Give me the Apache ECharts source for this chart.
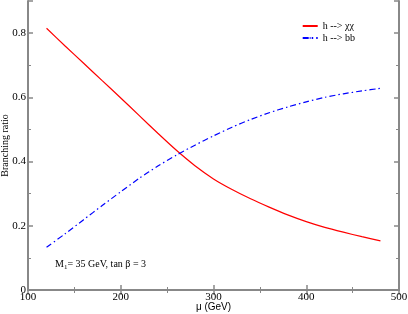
<!DOCTYPE html>
<html><head><meta charset="utf-8">
<script src="https://cdn.jsdelivr.net/npm/echarts@6/dist/echarts.min.js"></script>
<style>html,body{margin:0;padding:0;background:#fff}#c{width:408px;height:314px}</style>
</head><body><div id="c"></div>
<script>
const mu = [120,140,160,180,200,220,240,260,280,300,320,340,360,380,400,420,440,460,480];
const brChi = [0.815,0.760,0.706,0.652,0.598,0.543,0.488,0.435,0.387,0.346,0.313,0.284,0.258,0.234,0.213,0.195,0.180,0.166,0.153];
const brBB = [0.133,0.175,0.219,0.263,0.306,0.348,0.386,0.420,0.451,0.480,0.507,0.531,0.552,0.570,0.586,0.600,0.611,0.620,0.628];
const xTicks = [100,200,300,400,500];
const yTicks = [0,0.2,0.4,0.6,0.8];

const serif = 'Liberation Serif';
const axisCol = '#888';
const zip = (a,b)=>a.map((v,i)=>[v,b[i]]);

const chart = echarts.init(document.getElementById('c'));
const tickCommon = {inside:true, length:5, lineStyle:{color:axisCol,width:1.5}};
const minorCommon = {show:true, splitNumber:2, length:3, lineStyle:{color:axisCol,width:1}};
chart.setOption({
  animation:false,
  grid:{left:28,right:9,top:1,bottom:24,outerBoundsMode:'none',containLabel:false},
  legend:{
    right:48, top:16, orient:'vertical', itemGap:2, itemWidth:15, itemHeight:2,
    textStyle:{fontFamily:serif,fontSize:10,color:'#000'},
    data:[{name:'h --> χχ'},{name:'h --> bb'}]
  },
  title:{
    text:'{a|M}{s|1}{a|= 35 GeV, tan β = 3}',
    left:50, top:253,
    textStyle:{fontWeight:'normal',rich:{a:{fontFamily:serif,fontSize:10,fontWeight:'normal',color:'#000'},s:{fontFamily:serif,fontSize:7,fontWeight:'normal',color:'#000',verticalAlign:'bottom',padding:[6,0,0,0]}}}
  },
  xAxis:[{
    type:'value', min:100, max:500, interval:100,
    name:'μ (GeV)', nameLocation:'middle', nameGap:12, nameMoveOverlap:false,
    nameTextStyle:{fontFamily:'Liberation Sans',fontSize:10,color:'#000',verticalAlign:'top'},
    axisLine:{lineStyle:{color:axisCol,width:2}},
    axisTick:tickCommon, minorTick:minorCommon,
    axisLabel:{fontFamily:serif,fontSize:11,color:'#000',margin:2,formatter:v=>xTicks.includes(v)?String(v):''},
    splitLine:{show:false}
  },{
    type:'value', position:'top', min:100, max:500, interval:100,
    axisLine:{lineStyle:{color:axisCol,width:2}},
    axisTick:tickCommon, minorTick:minorCommon, axisLabel:{show:false}, splitLine:{show:false}
  }],
  yAxis:[{
    type:'value', min:0, max:0.9, interval:0.2,
    name:'Branching ratio', nameLocation:'middle', nameGap:18, nameMoveOverlap:false,
    nameTextStyle:{fontFamily:serif,fontSize:10,color:'#000'},
    axisLine:{lineStyle:{color:axisCol,width:2}},
    axisTick:tickCommon, minorTick:minorCommon,
    axisLabel:{fontFamily:serif,fontSize:11,color:'#000',margin:2,formatter:v=>{const t=yTicks.find(y=>Math.abs(y-v)<1e-6);return t===undefined?'':String(t);}},
    splitLine:{show:false}
  },{
    type:'value', position:'right', min:0, max:0.9, interval:0.2,
    axisLine:{lineStyle:{color:axisCol,width:2}},
    axisTick:tickCommon, minorTick:minorCommon, axisLabel:{show:false}, splitLine:{show:false}
  }],
  series:[{
    name:'h --> χχ', type:'line', smooth:0.25, showSymbol:false, symbol:'none',
    data:zip(mu,brChi), lineStyle:{color:'#ff0000',width:1.2}, itemStyle:{color:'#ff0000'}
  },{
    name:'h --> bb', type:'line', smooth:0.25, showSymbol:false, symbol:'none',
    data:zip(mu,brBB), lineStyle:{color:'#0000ff',width:1.2,type:[6,3,1.5,3]}, itemStyle:{color:'#0000ff'}
  }]
});
</script></body></html>
